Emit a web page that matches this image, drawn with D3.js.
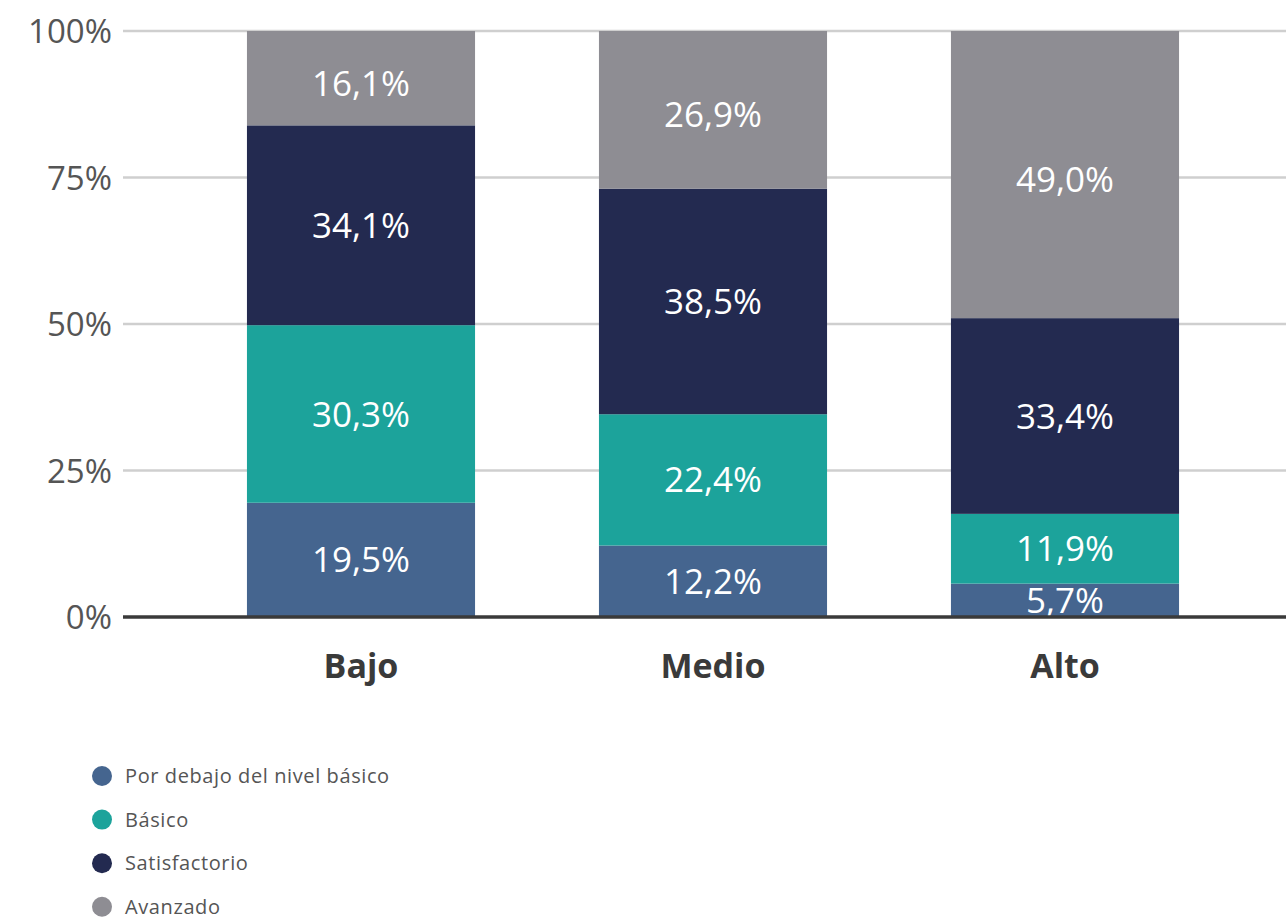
<!DOCTYPE html>
<html><head><meta charset="utf-8">
<script src="https://cdn.jsdelivr.net/npm/d3@7"></script>
<style>body{margin:0;background:#fff;} svg{display:block;}</style>
</head><body>
<svg id="chart" width="1286" height="920"></svg>
<script>
const categories = ["Bajo", "Medio", "Alto"];
const seriesNames = ["Por debajo del nivel básico", "Básico", "Satisfactorio", "Avanzado"];
const porDebajo = [19.5, 12.2, 5.7];
const basico = [30.3, 22.4, 11.9];
const satisfactorio = [34.1, 38.5, 33.4];
const avanzado = [16.1, 26.9, 49.0];
const yTicks = [0, 25, 50, 75, 100];
const colors = ["#45658f", "#1ca39b", "#232a50", "#8e8d93"];

const series = [porDebajo, basico, satisfactorio, avanzado];
const rows = categories.map((c, i) => {
  const r = {cat: c};
  seriesNames.forEach((s, j) => r[s] = series[j][i]);
  return r;
});
const stacked = d3.stack().keys(seriesNames)(rows);

const svg = d3.select("#chart");
const font = "'Open Sans', sans-serif";
const x = d3.scaleBand().domain(categories).range([185, 1241]).paddingInner(0.352).paddingOuter(0.176);
const y = d3.scaleLinear().domain([0, 100]).range([617, 31]);

// grid
svg.append("g").selectAll("line").data(yTicks.filter(t => t > 0)).join("line")
  .attr("x1", 123).attr("x2", 1286)
  .attr("y1", d => y(d)).attr("y2", d => y(d))
  .attr("stroke", "#cfcfcf").attr("stroke-width", 2.5);

// y axis labels
const yAxis = d3.axisLeft(y).tickValues(yTicks).tickFormat(d => d + "%").tickSize(0).tickPadding(0);
const ya = svg.append("g").attr("transform", "translate(112,0)").call(yAxis);
ya.select(".domain").remove();
ya.selectAll("text").attr("font-family", font).attr("font-size", 33).attr("fill", "#555").attr("dy", "0.35em");

// bars
const layers = svg.append("g").selectAll("g").data(stacked).join("g")
  .attr("fill", (d, i) => colors[i]);
layers.selectAll("rect").data(d => d).join("rect")
  .attr("x", d => x(d.data.cat))
  .attr("width", x.bandwidth())
  .attr("y", d => y(d[1]))
  .attr("height", d => y(d[0]) - y(d[1]));

// bar labels
const lab = svg.append("g");
stacked.forEach((layer, li) => {
  layer.forEach(d => {
    lab.append("text")
      .attr("x", x(d.data.cat) + x.bandwidth() / 2)
      .attr("y", (y(d[0]) + y(d[1])) / 2 + (li === 3 ? 5 : 0))
      .attr("dy", "0.36em")
      .attr("text-anchor", "middle")
      .attr("font-family", font).attr("font-size", 35)
      .attr("fill", "#fff")
      .text(d3.format(".1f")(d[1] - d[0]).replace(".", ",") + "%");
  });
});

// baseline
svg.append("line").attr("x1", 123).attr("x2", 1286).attr("y1", y(0)).attr("y2", y(0))
  .attr("stroke", "#3a3a3a").attr("stroke-width", 3.5);

// x axis labels
const xAxis = d3.axisBottom(x).tickSize(0).tickPadding(0);
const xa = svg.append("g").attr("transform", "translate(0,678)").call(xAxis);
xa.select(".domain").remove();
xa.selectAll("text").attr("font-family", font).attr("font-size", 34).attr("font-weight", "bold")
  .attr("fill", "#3a3a3a").attr("dy", 0);

// legend
const lg = svg.append("g").selectAll("g").data(seriesNames).join("g")
  .attr("transform", (d, i) => `translate(102,${776 + i * 43.6})`);
lg.append("circle").attr("r", 10).attr("fill", (d, i) => colors[i]);
lg.append("text").attr("x", 23).attr("dy", "0.35em")
  .attr("font-family", font).attr("font-size", 20).attr("letter-spacing", 0.6)
  .attr("fill", "#555").text(d => d);
</script>
</body></html>
